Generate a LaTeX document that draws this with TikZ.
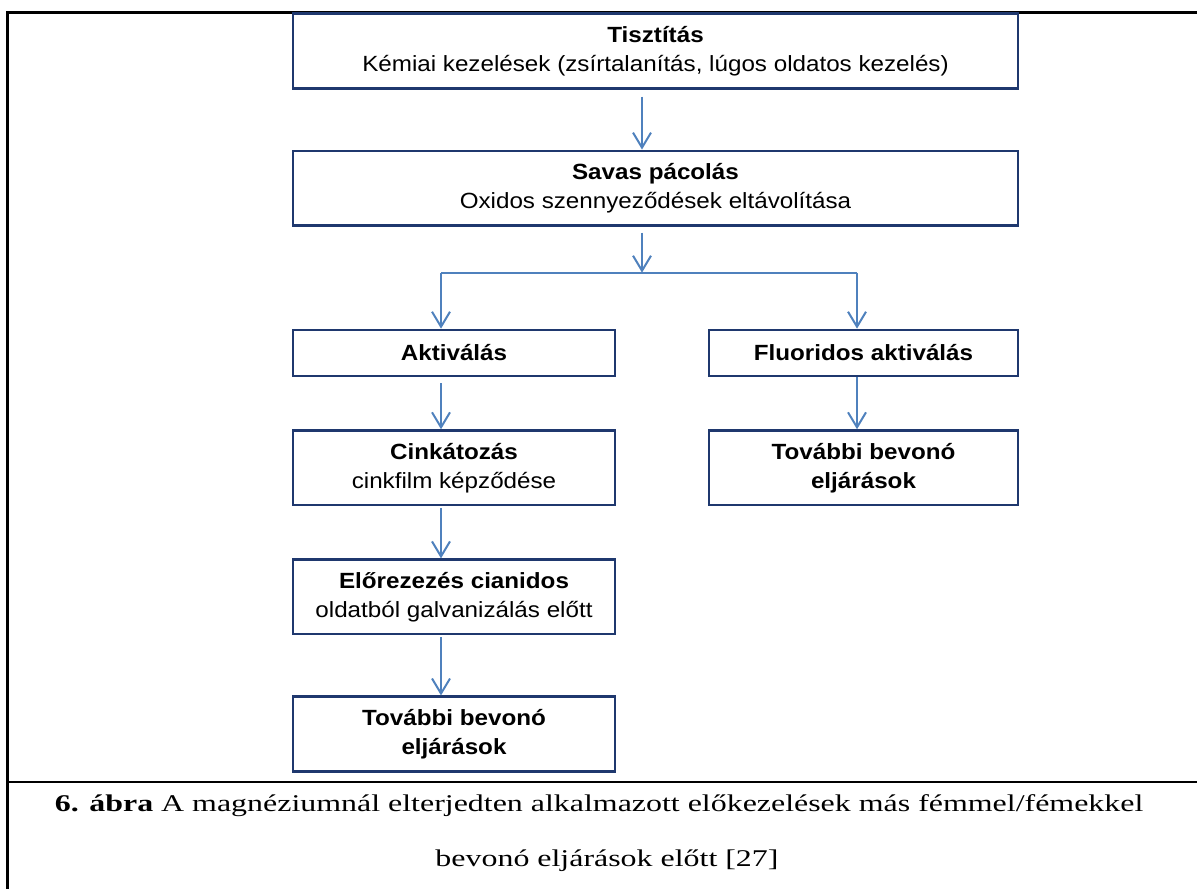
\documentclass[tikz,border=0pt]{standalone}
\usepackage{fontspec}
\usepackage{tikz}
\usetikzlibrary{arrows.meta,positioning}
\newfontfamily\boxfont{Liberation Sans}[FakeStretch=1.1]
\newfontfamily\capfont{Liberation Serif}[FakeStretch=1.33]
\definecolor{BoxNavy}{RGB}{31,56,110}
\definecolor{ArrowBlue}{RGB}{79,129,189}
\tikzset{
  pbox/.style   ={rectangle, draw=BoxNavy, line width=1.3pt, fill=white, text=black,
                  align=center, inner sep=0pt,
                  font=\boxfont\fontsize{11}{14.5}\selectfont},
  wbox/.style   ={pbox, minimum width=362.5pt, minimum height=37.25pt},
  lbox/.style   ={pbox, minimum width=161pt, minimum height=37.25pt},
  rbox/.style   ={pbox, minimum width=154.5pt, minimum height=37.25pt},
  arr/.style    ={-{Straight Barb[length=7.5pt,width=9pt]}, draw=ArrowBlue, line width=1pt},
  link/.style   ={draw=ArrowBlue, line width=1pt},
  frame/.style  ={draw=black, line width=1.25pt},
}
\begin{document}
\begin{tikzpicture}[x=1pt,y=1pt]
  \useasboundingbox (0,0) rectangle (598.5,-444.5);

  \draw[frame] (598.5,-6.35) -- (3.8,-6.35) -- (3.8,-444.5);
  \draw[frame] (3.8,-391) -- (598.5,-391);

  \node[wbox] (tiszt) at (327.75,-25.5)
  {\textbf{Tisztítás}\\Kémiai kezelések (zsírtalanítás, lúgos oldatos kezelés)};
  \node[wbox,below=30pt of tiszt] (pacol)
  {\textbf{Savas pácolás}\\Oxidos szennyeződések eltávolítása};

  \node[lbox,minimum height=23pt,below=51pt of pacol.south west,anchor=north west] (aktiv)
  {\textbf{Aktiválás}};
  \node[rbox,minimum height=23pt,below=51pt of pacol.south east,anchor=north east] (fluor)
  {\textbf{Fluoridos aktiválás}};

  \node[lbox,below=26pt of aktiv] (cink) {\textbf{Cinkátozás}\\cinkfilm képződése};
  \node[rbox,below=26pt of fluor] (tovr) {\textbf{További bevonó}\\\textbf{eljárások}};
  \node[lbox,below=26pt of cink] (elore)
  {\textbf{Előrezezés cianidos}\\oldatból galvanizálás előtt};
  \node[lbox,below=30pt of elore] (tovl) {\textbf{További bevonó}\\\textbf{eljárások}};

  \coordinate (split) at ([xshift=-6.75pt,yshift=-23pt]pacol.south);
  \coordinate (lin) at ([xshift=-6.5pt]aktiv.north);
  \coordinate (rin) at ([xshift=-3.25pt]fluor.north);

  \draw[arr,shorten <=3.5pt] ([xshift=-6.75pt]tiszt.south) -- ([xshift=-6.75pt]pacol.north);
  \draw[arr,shorten <=3pt] ([xshift=-6.75pt]pacol.south) -- (split);
  \draw[link] (lin |- split) -- (rin |- split);
  \draw[arr] (lin |- split) -- (lin);
  \draw[arr] (rin |- split) -- (rin);
  \draw[arr,shorten <=3pt] ([xshift=-6.5pt]aktiv.south) -- ([xshift=-6.5pt]cink.north);
  \draw[arr,shorten <=1pt] ([xshift=-6.5pt]cink.south) -- ([xshift=-6.5pt]elore.north);
  \draw[arr,shorten <=1pt] ([xshift=-6.5pt]elore.south) -- ([xshift=-6.5pt]tovl.north);
  \draw[arr] ([xshift=-3.25pt]fluor.south) -- ([xshift=-3.25pt]tovr.north);

  \node[anchor=base,inner sep=0pt,font=\capfont\fontsize{12}{14}\selectfont] (cap1) at (299.5,-405.5)
  {\textbf{6. ábra} A magnéziumnál elterjedten alkalmazott előkezelések más fémmel/fémekkel};
  \node[anchor=base,inner sep=0pt,font=\capfont\fontsize{12}{14}\selectfont] (cap2) at (303.5,-433.3)
  {bevonó eljárások előtt [27]};
\end{tikzpicture}
\end{document}
